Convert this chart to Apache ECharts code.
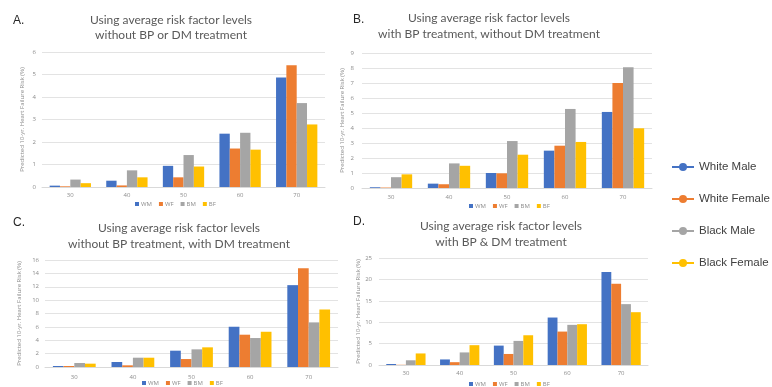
<!DOCTYPE html>
<html>
<head>
<meta charset="utf-8">
<script src="https://cdn.jsdelivr.net/npm/echarts@6/dist/echarts.min.js"></script>
<style>
  html, body { margin: 0; padding: 0; background: #ffffff; }
  #chart { width: 772px; height: 387px; }
</style>
</head>
<body>
<div id="chart"></div>
<script>
// Age groups on the x axis
const ages = ['30', '40', '50', '60', '70'];
const groupCodes = ['WM', 'WF', 'BM', 'BF'];
const groupNames = ['White Male', 'White Female', 'Black Male', 'Black Female'];
const colors = ['#4472C4', '#ED7D31', '#A5A5A5', '#FFC000'];

// A. without BP or DM treatment
const wmA = [0.06, 0.28, 0.94, 2.37, 4.87];
const wfA = [0.03, 0.07, 0.43, 1.71, 5.41];
const bmA = [0.33, 0.74, 1.42, 2.41, 3.73];
const bfA = [0.17, 0.43, 0.91, 1.66, 2.78];

// B. with BP treatment, without DM treatment
const wmB = [0.05, 0.29, 1.00, 2.49, 5.07];
const wfB = [0.03, 0.25, 0.98, 2.82, 7.00];
const bmB = [0.72, 1.64, 3.13, 5.27, 8.05];
const bfB = [0.91, 1.48, 2.22, 3.07, 3.98];

// C. without BP treatment, with DM treatment
const wmC = [0.15, 0.75, 2.44, 6.02, 12.24];
const wfC = [0.15, 0.25, 1.19, 4.83, 14.78];
const bmC = [0.60, 1.39, 2.64, 4.33, 6.67];
const bfC = [0.50, 1.39, 2.94, 5.27, 8.60];

// D. with BP & DM treatment
const wmD = [0.23, 1.30, 4.53, 11.09, 21.72];
const wfD = [0.05, 0.66, 2.58, 7.81, 18.98];
const bmD = [1.10, 2.94, 5.63, 9.38, 14.22];
const bfD = [2.70, 4.63, 6.95, 9.53, 12.34];

// Y axis ranges: [min, max, interval]
const yRangeA = [0, 6, 1];
const yRangeB = [0, 9, 1];
const yRangeC = [0, 16, 2];
const yRangeD = [0, 25, 5];

const panelTitles = [
  ['Using average risk factor levels', 'without BP or DM treatment'],
  ['Using average risk factor levels', 'with BP treatment, without DM treatment'],
  ['Using average risk factor levels', 'without BP treatment, with DM treatment'],
  ['Using average risk factor levels', 'with BP & DM treatment']
];
const panelLetters = ['A.', 'B.', 'C.', 'D.'];
const yName = 'Predicted 10-yr. Heart Failure Risk (%)';

const panelData = [
  [wmA, wfA, bmA, bfA],
  [wmB, wfB, bmB, bfB],
  [wmC, wfC, bmC, bfC],
  [wmD, wfD, bmD, bfD]
];
const yRanges = [yRangeA, yRangeB, yRangeC, yRangeD];

// Layout of the four panels
const grids = [
  { left: 42, right: 447, top: 52, bottom: 200 },
  { left: 362, right: 120, top: 53, bottom: 199 },
  { left: 45, right: 434, top: 260, bottom: 20 },
  { left: 379, right: 124, top: 258, bottom: 22 }
];
const yNameGaps = [17, 17, 23, 18];
const yLabelMargins = [6, 8, 6, 7];
const xLabelMargins = [5, 6, 7, 5];
const legendPos = [
  { left: 135, top: 201 },
  { left: 469, top: 203 },
  { left: 142, top: 380 },
  { left: 469, top: 381 }
];
const titlePos = [
  { x: 171, y1: 20, y2: 35.5 },
  { x: 489, y1: 18.5, y2: 34 },
  { x: 179, y1: 228.3, y2: 244 },
  { x: 501, y1: 226, y2: 241.7 }
];
const letterPos = [
  { x: 13, y: 20.5 },
  { x: 353, y: 19.5 },
  { x: 13, y: 222.5 },
  { x: 353, y: 222 }
];

const smallFont = 'Open Sans, Liberation Sans, sans-serif';
const titleFont = 'Lato, Open Sans, sans-serif';

const xAxis = [], yAxis = [], series = [], legend = [], graphic = [];

for (let p = 0; p < 4; p++) {
  xAxis.push({
    type: 'category',
    gridIndex: p,
    data: ages,
    axisLine: { lineStyle: { color: '#d9d9d9', width: 1 } },
    axisTick: { show: false },
    axisLabel: { color: '#8c8c8c', fontSize: 6, fontFamily: smallFont, margin: xLabelMargins[p] }
  });
  yAxis.push({
    type: 'value',
    gridIndex: p,
    min: yRanges[p][0],
    max: yRanges[p][1],
    interval: yRanges[p][2],
    name: yName,
    nameLocation: 'middle',
    nameRotate: 90,
    nameGap: yNameGaps[p],
    nameTextStyle: { color: '#8c8c8c', fontSize: 6, fontFamily: smallFont },
    axisLine: { show: false },
    axisTick: { show: false },
    splitLine: { lineStyle: { color: '#e3e3e3', width: 1 } },
    axisLabel: { color: '#8c8c8c', fontSize: 6, fontFamily: smallFont, margin: yLabelMargins[p] }
  });
  for (let s = 0; s < 4; s++) {
    series.push({
      type: 'bar',
      name: groupCodes[s],
      xAxisIndex: p,
      yAxisIndex: p,
      data: panelData[p][s],
      barGap: '0%',
      barCategoryGap: '27%',
      itemStyle: { color: colors[s] },
      emphasis: { disabled: true },
      animation: false
    });
  }
  legend.push({
    data: groupCodes,
    left: legendPos[p].left,
    top: legendPos[p].top,
    orient: 'horizontal',
    icon: 'rect',
    itemWidth: 4,
    itemHeight: 4,
    itemGap: 7,
    padding: 0,
    textStyle: { color: '#8c8c8c', fontSize: 6, fontFamily: smallFont, padding: [0, 0, 0, -3] },
    selectedMode: false
  });
  graphic.push({
    type: 'text',
    x: titlePos[p].x, y: titlePos[p].y1,
    style: { text: panelTitles[p][0], fill: '#595959', font: '12px ' + titleFont, textAlign: 'center', textVerticalAlign: 'middle' }
  });
  graphic.push({
    type: 'text',
    x: titlePos[p].x, y: titlePos[p].y2,
    style: { text: panelTitles[p][1], fill: '#595959', font: '12px ' + titleFont, textAlign: 'center', textVerticalAlign: 'middle' }
  });
  graphic.push({
    type: 'text',
    x: letterPos[p].x, y: letterPos[p].y,
    style: { text: panelLetters[p], fill: '#262626', font: '12px Liberation Sans, Arial, sans-serif', textAlign: 'left', textVerticalAlign: 'middle' }
  });
}

// Series used only to show the line-style key on the right
for (let s = 0; s < 4; s++) {
  series.push({
    type: 'line',
    name: groupNames[s],
    data: [],
    xAxisIndex: 0,
    yAxisIndex: 0,
    symbol: 'circle',
    symbolSize: 8,
    itemStyle: { color: colors[s] },
    lineStyle: { color: colors[s], width: 3 }
  });
}
legend.push({
  data: groupNames,
  orient: 'vertical',
  left: 671,
  top: 160,
  itemWidth: 22,
  itemHeight: 10,
  itemGap: 18,
  padding: 0,
  selectedMode: false,
  textStyle: { color: '#404040', fontSize: 11.5, lineHeight: 14, fontFamily: 'Liberation Sans, Arial, sans-serif' }
});

const chart = echarts.init(document.getElementById('chart'), null, { renderer: 'canvas' });
chart.setOption({
  animation: false,
  backgroundColor: '#ffffff',
  grid: grids,
  xAxis: xAxis,
  yAxis: yAxis,
  legend: legend,
  series: series,
  graphic: graphic
});
</script>
</body>
</html>
